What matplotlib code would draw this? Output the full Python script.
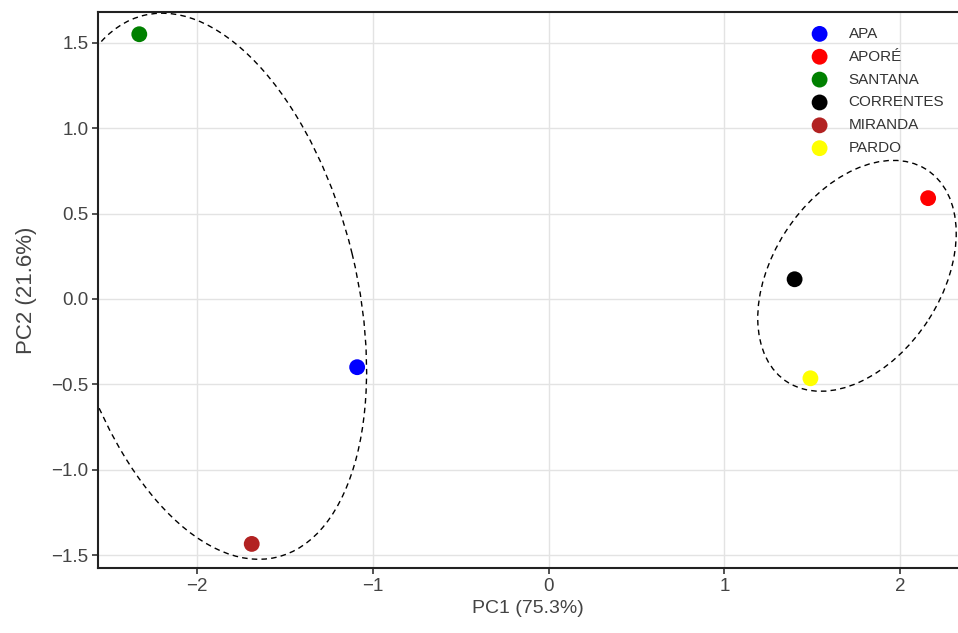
import numpy as np
import matplotlib
matplotlib.use("Agg")
import matplotlib.pyplot as plt
from matplotlib.patches import Ellipse

# PCA scores
sites = ["APA", "APORÉ", "SANTANA", "CORRENTES", "MIRANDA", "PARDO"]
pc1 = [-1.09, 2.16, -2.33, 1.40, -1.69, 1.49]
pc2 = [-0.40, 0.59, 1.55, 0.115, -1.435, -0.465]
colors = ["#0000ff", "#ff0000", "#008000", "#000000", "#b22222", "#ffff00"]

# group ellipses (center, covariance-like shape matrix)
ell_centers = [(-1.925, 0.074), (1.755, 0.135)]
ell_shapes = [[[0.79, -0.44], [-0.44, 2.557]],
              [[0.319, 0.14], [0.14, 0.457]]]

plt.rcParams['font.family'] = ['Liberation Sans', 'DejaVu Sans']

fig = plt.figure(figsize=(9.58, 6.33), dpi=100)
ax = fig.add_axes([0.1023, 0.1027, 0.8977, 0.8783])

for (cx, cy), m in zip(ell_centers, ell_shapes):
    vals, vecs = np.linalg.eigh(np.array(m))
    ang = np.degrees(np.arctan2(vecs[1, 1], vecs[0, 1]))
    e = Ellipse((cx, cy), 2*np.sqrt(vals[1]), 2*np.sqrt(vals[0]), angle=ang,
                fill=False, ls=(0, (4, 3)), lw=1.0, ec='black', zorder=2)
    ax.add_patch(e)

for name, x, y, c in zip(sites, pc1, pc2, colors):
    ax.scatter(x, y, s=130, color=c, label=name, zorder=3, edgecolors='none')

ax.set_xlim(-2.565, 2.33)
ax.set_ylim(-1.576, 1.68)
ax.set_xticks([-2, -1, 0, 1, 2])
ax.set_xticklabels(["\u22122", "\u22121", "0", "1", "2"])
ax.set_yticks([-1.5, -1.0, -0.5, 0.0, 0.5, 1.0, 1.5])
ax.set_yticklabels(["\u22121.5", "\u22121.0", "\u22120.5", "0.0", "0.5", "1.0", "1.5"])
ax.grid(True, color='#e3e3e3', lw=1.0)
ax.set_axisbelow(True)
ax.tick_params(direction='out', length=4, width=1.2, colors='#333333',
               labelsize=13.5, labelcolor='#444444', pad=3)
for s in ['left', 'bottom', 'top']:
    ax.spines[s].set_linewidth(1.5)
    ax.spines[s].set_color('#222222')
ax.spines['right'].set_visible(False)

ax.set_xlabel("PC1 (75.3%)", fontsize=14, color='#444444', labelpad=4)
ax.set_ylabel("PC2 (21.6%)", fontsize=16, color='#444444', labelpad=10)

leg = ax.legend(loc='upper right', bbox_to_anchor=(1.0, 0.998), frameon=False,
                fontsize=11, handletextpad=0.9, labelspacing=0.58,
                markerscale=1.0)
for t in leg.get_texts():
    t.set_color('#333333')

fig.savefig("out.png", dpi=100)
